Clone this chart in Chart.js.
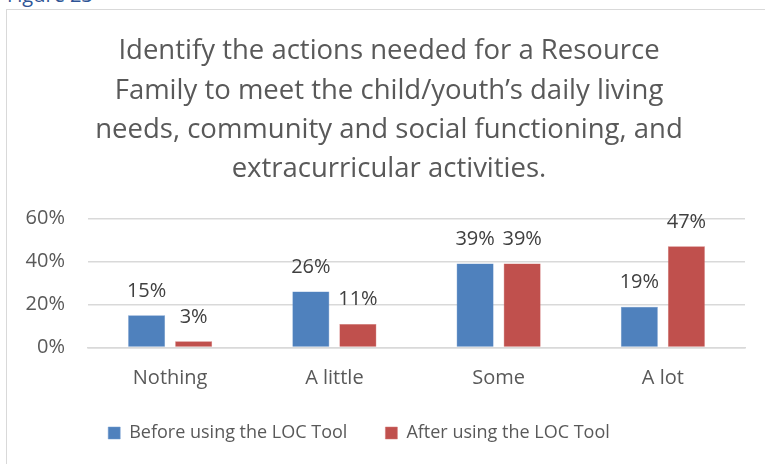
<!DOCTYPE html>
<html>
<head>
<meta charset="utf-8">
<script src="https://cdn.jsdelivr.net/npm/chart.js@4/dist/chart.umd.min.js"></script>
<style>
  html, body { margin: 0; padding: 0; background: #fff; overflow: hidden; }
  body { width: 765px; height: 464px; position: relative; }
  #fig { position: absolute; left: 7px; top: -15px; font-family: 'Open Sans', sans-serif; font-size: 20px; line-height: 20px; color: #2e5496; white-space: nowrap; }
  #frame { position: absolute; left: 6px; top: 9px; width: 800px; height: 500px; border: 1px solid #d9d9d9; box-sizing: border-box; }
  #wrap { position: absolute; left: 7px; top: 10px; width: 758px; height: 454px; }
</style>
</head>
<body>
<div id="fig">Figure 23</div>
<div id="frame"></div>
<div id="wrap"><canvas id="c"></canvas></div>
<script>
const titleLines = [
  "Identify the actions needed for a Resource",
  "Family to meet the child/youth\u2019s daily living",
  "needs, community and social functioning, and",
  "extracurricular activities."
];
const categories = ["Nothing", "A little", "Some", "A lot"];
const seriesNames = ["Before using the LOC Tool", "After using the LOC Tool"];
const beforeValues = [15, 26, 39, 19];
const afterValues = [3, 11, 39, 47];
const yTicks = [0, 20, 40, 60];

const FONT = "'Open Sans', sans-serif";

const valueLabels = {
  id: 'valueLabels',
  afterDatasetsDraw(chart) {
    const ctx = chart.ctx;
    ctx.save();
    ctx.font = "20px " + FONT;
    ctx.fillStyle = "#404040";
    ctx.textAlign = "center";
    ctx.textBaseline = "alphabetic";
    chart.data.datasets.forEach((ds, i) => {
      const meta = chart.getDatasetMeta(i);
      meta.data.forEach((el, j) => {
        ctx.fillText(ds.data[j] + "%", el.x, el.y - 18.5);
      });
    });
    ctx.restore();
  }
};

// Excel-like placement: title slightly right of centre, legend slightly left;
// let the category labels extend below the compact x-axis box without clipping
const boxOffsets = {
  id: 'boxOffsets',
  afterLayout(chart) {
    const t = chart.titleBlock, l = chart.legend, x = chart.scales.x;
    if (t) { t.left += 13; t.right += 13; }
    if (l) { l.left -= 17; l.right -= 17; }
    if (x) { x.bottom += 25; }
  }
};

new Chart(document.getElementById('c'), {
  type: 'bar',
  data: {
    labels: categories,
    datasets: [
      { label: seriesNames[0], data: beforeValues, backgroundColor: '#4f81bd', borderColor: '#6f98cc', borderWidth: 0.5,
        categoryPercentage: 0.573, barPercentage: 0.787 },
      { label: seriesNames[1], data: afterValues, backgroundColor: '#c0504d', borderColor: '#d07472', borderWidth: 0.5,
        categoryPercentage: 0.573, barPercentage: 0.787 }
    ]
  },
  options: {
    responsive: true,
    maintainAspectRatio: false,
    animation: false,
    layout: { padding: { left: 0, right: 20, top: 0, bottom: 12 } },
    plugins: {
      title: {
        display: true,
        text: titleLines,
        color: '#595959',
        font: { family: FONT, size: 27.5, weight: 'normal', lineHeight: 1.43 },
        padding: { top: 22, bottom: 29 }
      },
      legend: {
        position: 'bottom',
        labels: {
          color: '#595959',
          font: { family: FONT, size: 18 },
          boxWidth: 12, boxHeight: 12,
          padding: 38
        }
      },
      tooltip: { enabled: false }
    },
    scales: {
      x: {
        afterFit(scale) { scale.height = 38.4; },
        grid: { display: false, drawTicks: false },
        border: { display: true, color: '#d9d9d9', width: 1.5 },
        ticks: { color: '#595959', font: { family: FONT, size: 20 }, padding: 19 }
      },
      y: {
        min: 0, max: 60,
        afterFit(scale) { scale.width = 81; },
        afterBuildTicks(scale) { scale.ticks = yTicks.map(v => ({ value: v })); },
        grid: { color: '#d9d9d9', lineWidth: 1.5, drawTicks: false },
        border: { display: false },
        ticks: { color: '#595959', font: { family: FONT, size: 20 }, padding: 23,
          callback: v => v + '%' }
      }
    }
  },
  plugins: [valueLabels, boxOffsets]
});
</script>
</body>
</html>
